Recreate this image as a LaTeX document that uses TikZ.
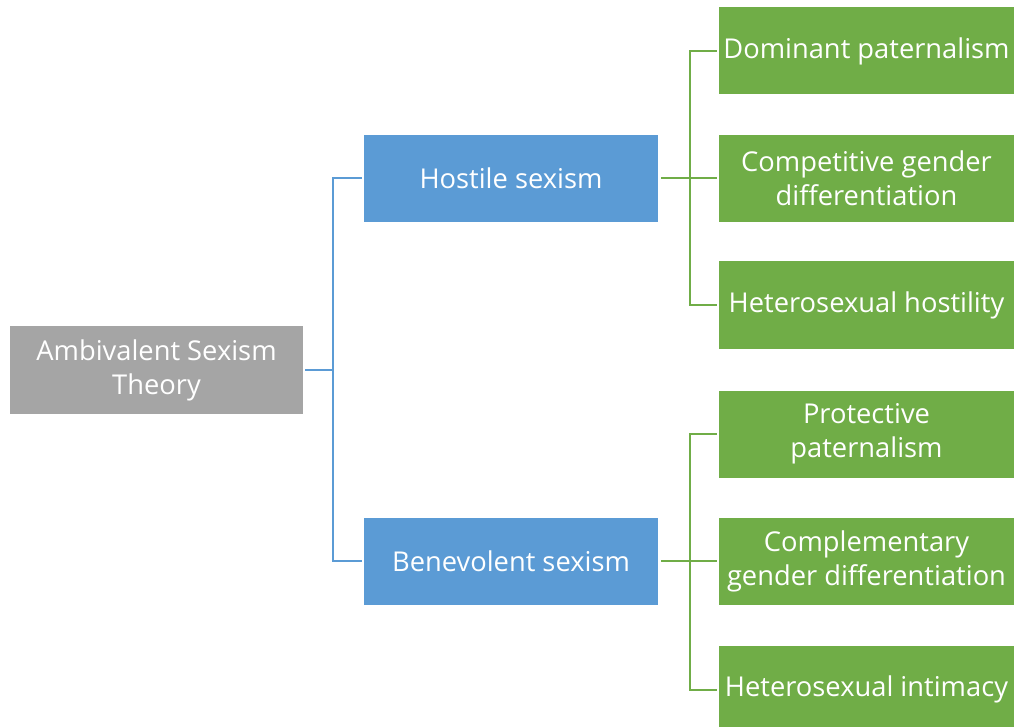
\documentclass[tikz,border=0pt]{standalone}
\usepackage{fontspec}
\setmainfont{Open Sans}
\definecolor{rootgray}{HTML}{A5A5A5}
\definecolor{midblue}{HTML}{5B9BD5}
\definecolor{leafgreen}{HTML}{70AD47}
\begin{document}
\begin{tikzpicture}[x=1pt,y=-1pt,
  boxbase/.style={inner sep=0pt, outer sep=0pt, text=white, align=center,
    font=\fontsize{27.3}{34}\selectfont, anchor=center},
  rootbox/.style={boxbase, fill=rootgray, minimum width=293pt, minimum height=88pt},
  midbox/.style={boxbase, fill=midblue, minimum width=294pt, minimum height=87pt},
  leafbox/.style={boxbase, fill=leafgreen, minimum width=295pt, minimum height=87pt},
  blueline/.style={draw=midblue, line width=2pt, shorten <=2pt, shorten >=2pt},
  greenline/.style={draw=leafgreen, line width=2pt, shorten <=3pt, shorten >=2pt}]
\useasboundingbox (0,0) rectangle (1014,727);
\begin{scope}
\clip (0,0) rectangle (1014,727);
\node[rootbox] (root) at (156.5,370) {Ambivalent Sexism\\Theory};
\node[midbox] (hostile) at (511,178.5) {Hostile sexism};
\node[midbox] (benev) at (511,561) {Benevolent sexism};
\node[leafbox] (g1) at (866.5,51) {Dominant paternalism};
\node[leafbox] (g2) at (866.5,178.5) {Competitive gender\\differentiation};
\node[leafbox] (g3) at (866.5,305) {Heterosexual hostility};
\node[leafbox] (g4) at (866.5,434) {Protective\\paternalism};
\node[leafbox] (g5) at (866.5,561) {Complementary\\gender differentiation};
\node[leafbox] (g6) at (866.5,689.5) {Heterosexual intimacy};
\end{scope}
\draw[blueline] (root.east) -- ++(30,0) |- (hostile.west);
\draw[blueline] (root.east) -- ++(30,0) |- (benev.west);
\foreach \g in {g1,g2,g3}{
  \draw[greenline] (hostile.east) -- ++(32,0) |- (\g.west);
}
\foreach \g in {g4,g5,g6}{
  \draw[greenline] (benev.east) -- ++(32,0) |- (\g.west);
}
\end{tikzpicture}
\end{document}
